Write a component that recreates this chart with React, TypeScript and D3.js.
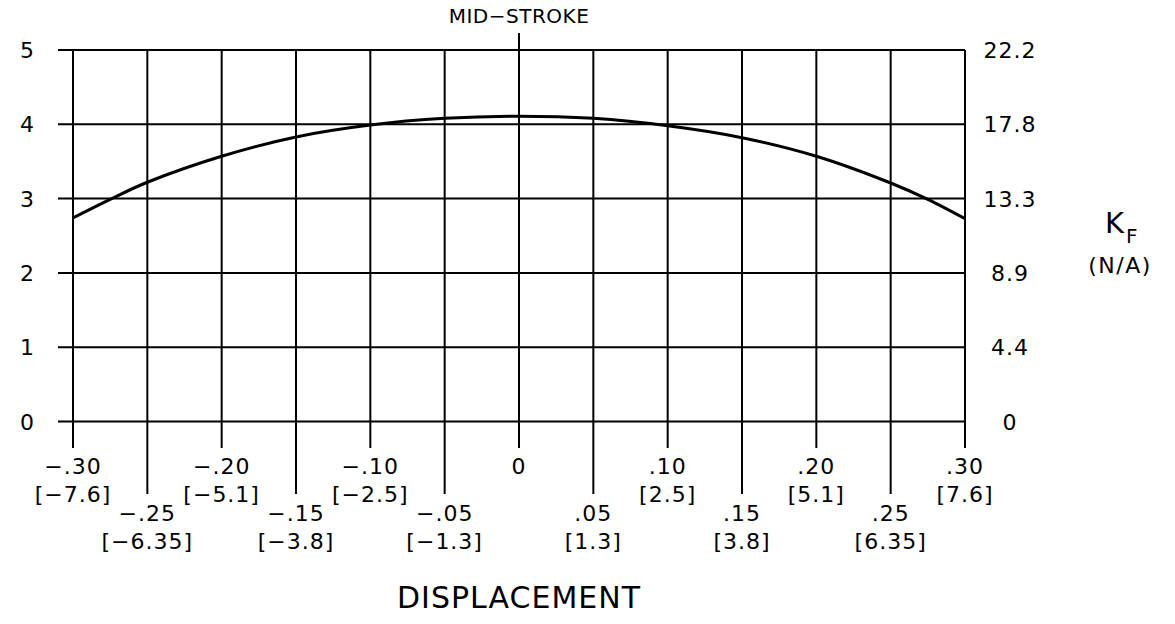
import * as d3 from "d3";

// displacement (in) vs K_F
const displacement = [-0.3, -0.275, -0.25, -0.2, -0.15, -0.1, -0.05, 0, 0.05, 0.1, 0.15, 0.2, 0.25, 0.275, 0.3];
const kf = [2.74, 2.99, 3.22, 3.57, 3.83, 3.99, 4.08, 4.11, 4.08, 3.98, 3.82, 3.57, 3.21, 2.99, 2.73];

const xTicks = [-0.3, -0.25, -0.2, -0.15, -0.1, -0.05, 0, 0.05, 0.1, 0.15, 0.2, 0.25, 0.3];
const xInLabels = ["−.30", "−.25", "−.20", "−.15", "−.10", "−.05", "0", ".05", ".10", ".15", ".20", ".25", ".30"];
const xMmLabels = ["[−7.6]", "[−6.35]", "[−5.1]", "[−3.8]", "[−2.5]", "[−1.3]", "", "[1.3]", "[2.5]", "[3.8]", "[5.1]", "[6.35]", "[7.6]"];
const yTicks = [0, 1, 2, 3, 4, 5];
const yRightLabels = ["0", "4.4", "8.9", "13.3", "17.8", "22.2"];

export default function App() {
  const width = 1175;
  const height = 624;
  const left = 73;
  const right = 965;
  const top = 50;
  const bottom = 421.5;

  const x = d3.scaleLinear([-0.3, 0.3], [left, right]);
  const y = d3.scaleLinear([0, 5], [bottom, top]);

  const line = d3
    .line<number>()
    .x((d, i) => x(displacement[i]))
    .y((d) => y(d))
    .curve(d3.curveCatmullRom);

  const font = "DejaVu Sans, sans-serif";

  return (
    <svg
      width={width}
      height={height}
      style={{ position: "absolute", left: 0, top: 0, background: "white" }}
      fontFamily={font}
      fill="black"
    >
      {/* horizontal grid */}
      <g stroke="black" strokeWidth={2}>
        {yTicks.map((t) => (
          <line key={t} x1={58} x2={right} y1={y(t)} y2={y(t)} />
        ))}
      </g>
      {/* vertical grid + ticks */}
      <g stroke="black" strokeWidth={2}>
        {xTicks.map((t, i) => (
          <line
            key={t}
            x1={x(t)}
            x2={x(t)}
            y1={t === 0 ? 33 : top}
            y2={i % 2 === 0 ? 448 : 494}
          />
        ))}
      </g>
      {/* curve */}
      <path d={line(kf) ?? ""} fill="none" stroke="black" strokeWidth={3} />

      {/* left axis labels */}
      <g fontSize={22} textAnchor="end">
        {yTicks.map((t) => (
          <text key={t} x={34} y={y(t) + 8}>
            {t}
          </text>
        ))}
      </g>
      {/* right axis labels */}
      <g fontSize={22} textAnchor="middle" letterSpacing={1}>
        {yTicks.map((t, i) => (
          <text key={t} x={1010} y={y(t) + 8}>
            {yRightLabels[i]}
          </text>
        ))}
      </g>
      {/* bottom labels */}
      <g fontSize={22} textAnchor="middle" letterSpacing={1}>
        {xTicks.map((t, i) => {
          const base = i % 2 === 0 ? 474 : 521;
          return (
            <g key={t}>
              <text x={x(t)} y={base}>
                {xInLabels[i]}
              </text>
              {xMmLabels[i] && (
                <text x={x(t)} y={base + 28}>
                  {xMmLabels[i]}
                </text>
              )}
            </g>
          );
        })}
      </g>

      <text x={x(0)} y={23} fontSize={20} textAnchor="middle" letterSpacing={0.5}>
        MID−STROKE
      </text>
      <text x={x(0)} y={608} fontSize={30} textAnchor="middle" letterSpacing={1}>
        DISPLACEMENT
      </text>
      <text x={1105} y={233} fontSize={29}>
        K
      </text>
      <text x={1126} y={243} fontSize={20}>
        F
      </text>
      <text x={1120} y={273} fontSize={22} textAnchor="middle" letterSpacing={1.5}>
        (N/A)
      </text>
    </svg>
  );
}
